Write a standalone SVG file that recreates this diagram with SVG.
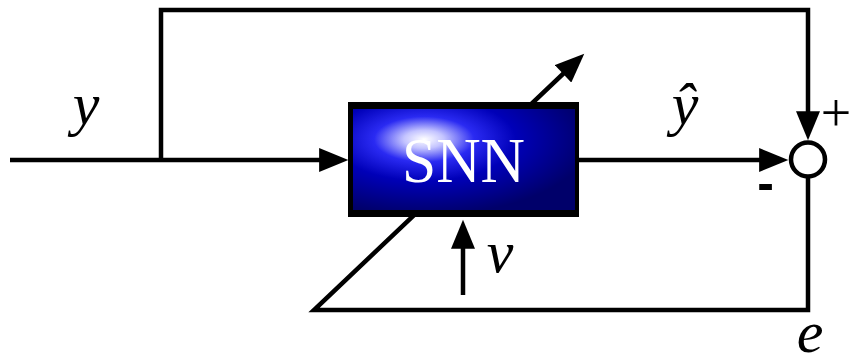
<svg xmlns="http://www.w3.org/2000/svg" width="851" height="364" viewBox="0 0 851 364">
<style>
.ln{fill:none;stroke:#000;stroke-width:4.5;stroke-linejoin:miter;stroke-linecap:butt}
.lbl{font-family:"Liberation Serif",serif;font-style:italic;font-size:60px;fill:#000;text-anchor:middle}
</style>
<defs>
<marker id="ah" markerUnits="userSpaceOnUse" markerWidth="30" markerHeight="24" refX="20" refY="11.5" orient="auto" viewBox="0 0 28 23">
<path d="M0,0 L28,11.5 L0,23 Z" fill="#000"/>
</marker>
<radialGradient id="bg" cx="0.32" cy="0.3" r="0.75" fx="0.32" fy="0.3">
<stop offset="0" stop-color="#ffffff"/>
<stop offset="0.12" stop-color="#c4c4ff"/>
<stop offset="0.3" stop-color="#2a2af2"/>
<stop offset="0.55" stop-color="#0000b8"/>
<stop offset="1" stop-color="#00006a"/>
</radialGradient>
</defs>
<g id="connectors">
<line class="ln" x1="10" y1="160" x2="340" y2="160" marker-end="url(#ah)"/>
<polyline class="ln" points="161,160 161,10 808,10 808,132" marker-end="url(#ah)"/>
<line class="ln" x1="579" y1="160" x2="780" y2="160" marker-end="url(#ah)"/>
<polyline class="ln" points="808,178 808,310 314,310 578.2,59.5" marker-end="url(#ah)"/>
<line class="ln" x1="463" y1="295" x2="463" y2="228" marker-end="url(#ah)"/>
</g>
<g id="snn">
<rect x="348" y="102" width="231" height="115" fill="#000"/>
<rect x="353" y="109" width="222" height="101" fill="url(#bg)"/>
<text x="463.5" y="182" font-family="'Liberation Serif',serif" font-size="64" fill="#fff" text-anchor="middle" textLength="123" lengthAdjust="spacingAndGlyphs">SNN</text>
</g>
<g id="sum">
<circle cx="808" cy="159.5" r="17" fill="#fff" stroke="#000" stroke-width="4.5"/>
<text x="836" y="131" font-family="'Liberation Serif',serif" font-size="54" text-anchor="middle">+</text>
<text x="765.5" y="200" font-family="'Liberation Sans',sans-serif" font-weight="bold" font-size="50" text-anchor="middle">-</text>
</g>
<g id="labels">
<text class="lbl" x="86" y="124">y</text>
<text class="lbl" x="685" y="124">ŷ</text>
<text class="lbl" x="500" y="272">v</text>
<text class="lbl" x="810" y="352">e</text>
</g>
</svg>
